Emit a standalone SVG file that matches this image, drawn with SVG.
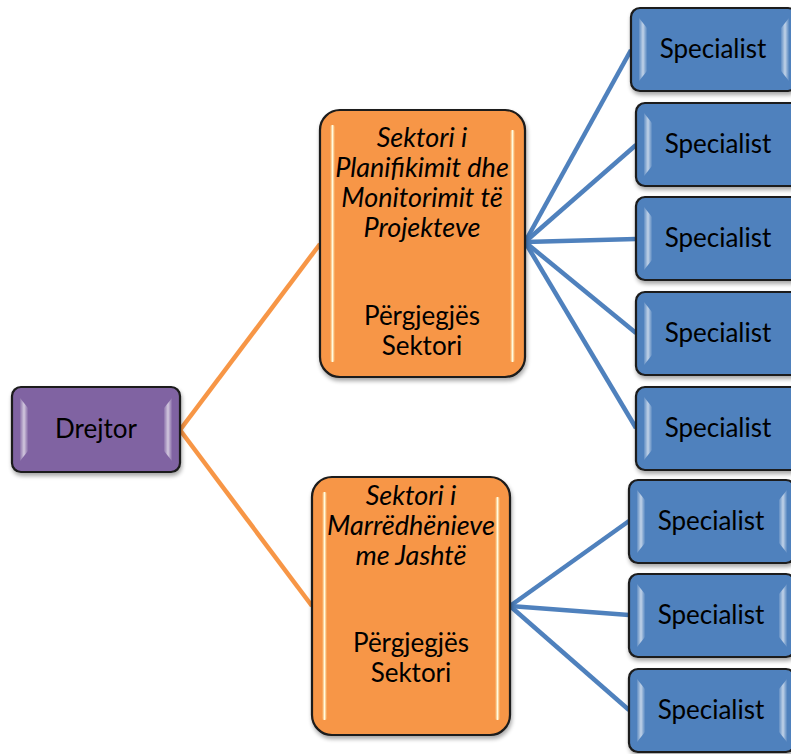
<svg xmlns="http://www.w3.org/2000/svg" width="791" height="754" viewBox="0 0 791 754">
<defs>
<filter id="sh" x="-10%" y="-10%" width="130%" height="130%">
<feGaussianBlur in="SourceAlpha" stdDeviation="2"/>
<feOffset dx="1" dy="3" result="b"/>
<feComponentTransfer><feFuncA type="linear" slope="0.35"/></feComponentTransfer>
<feMerge><feMergeNode/><feMergeNode in="SourceGraphic"/></feMerge>
</filter>
<linearGradient id="bevL" x1="0" y1="0" x2="1" y2="0">
<stop offset="0" stop-color="#fff" stop-opacity="0.1"/>
<stop offset="0.5" stop-color="#fff" stop-opacity="0.65"/>
<stop offset="1" stop-color="#fff" stop-opacity="0.05"/>
</linearGradient>
<linearGradient id="hl" x1="0" y1="0" x2="1" y2="0">
<stop offset="0" stop-color="#fff8c0" stop-opacity="0"/>
<stop offset="0.5" stop-color="#fffbe0" stop-opacity="1"/>
<stop offset="1" stop-color="#fff8c0" stop-opacity="0"/>
</linearGradient>
</defs>
<style>
.box{stroke:#1a1a1a;stroke-width:2.2}
.pur{fill:#8064A2}
.org{fill:#F79646}
.blu{fill:#4F81BD}
.t{font-family:Lato,"Liberation Sans",sans-serif;font-size:26px;fill:#000;text-anchor:middle}
.i{font-style:italic;font-size:27px}
.cOr{stroke:#F79646;stroke-width:4.5;fill:none}
.cBl{stroke:#4F81BD;stroke-width:4.5;fill:none}
.bev{fill:url(#bevL)}
.hl{fill:url(#hl)}
</style>
<g id="connectors">
<line class="cOr" x1="180" y1="430" x2="320" y2="244"/>
<line class="cOr" x1="180" y1="430" x2="312" y2="606"/>
<line class="cBl" x1="525" y1="242" x2="631" y2="50"/>
<line class="cBl" x1="525" y1="242" x2="636" y2="145"/>
<line class="cBl" x1="525" y1="242" x2="636" y2="239"/>
<line class="cBl" x1="525" y1="242" x2="636" y2="333"/>
<line class="cBl" x1="525" y1="242" x2="636" y2="428"/>
<line class="cBl" x1="510" y1="606" x2="629" y2="521"/>
<line class="cBl" x1="510" y1="606" x2="629" y2="615"/>
<line class="cBl" x1="510" y1="606" x2="629" y2="710"/>
</g>
<g id="drejtor">
<rect class="box pur" x="12" y="387" width="168" height="85" rx="9" filter="url(#sh)"/>
<path class="bev" d="M20 398 L28 408 L28 451 L20 461 Z"/>
<path class="bev" d="M172 398 L164 408 L164 451 L172 461 Z"/>
<text class="t" x="96" y="438">Drejtor</text>
</g>
<g id="sektor1">
<rect class="box org" x="320" y="110" width="205" height="267" rx="20" filter="url(#sh)"/>
<rect class="hl" x="330" y="125" width="5" height="237" rx="2"/>
<rect class="hl" x="510" y="130" width="5" height="232" rx="2"/>
<text class="t i" x="422" y="147">Sektori i</text>
<text class="t i" x="422" y="177">Planifikimit dhe</text>
<text class="t i" x="422" y="207">Monitorimit të</text>
<text class="t i" x="422" y="237">Projekteve</text>
<text class="t" x="422" y="325">Përgjegjës</text>
<text class="t" x="422" y="355">Sektori</text>
</g>
<g id="sektor2">
<rect class="box org" x="312" y="477" width="198" height="258" rx="20" filter="url(#sh)"/>
<rect class="hl" x="322" y="492" width="5" height="228" rx="2"/>
<rect class="hl" x="495" y="497" width="5" height="223" rx="2"/>
<text class="t i" x="411" y="505">Sektori i</text>
<text class="t i" x="411" y="535">Marrëdhënieve</text>
<text class="t i" x="411" y="565">me Jashtë</text>
<text class="t" x="411" y="652">Përgjegjës</text>
<text class="t" x="411" y="682">Sektori</text>
</g>
<g id="spec1">
<rect class="box blu" x="631" y="8" width="166" height="83" rx="9" filter="url(#sh)"/>
<path class="bev" d="M639 18 L647 28 L647 71 L639 81 Z"/>
<path class="bev" d="M789 18 L781 28 L781 71 L789 81 Z"/>
<text class="t" x="713" y="58">Specialist</text>
</g>
<g id="spec2">
<rect class="box blu" x="636" y="103" width="166" height="83" rx="9" filter="url(#sh)"/>
<path class="bev" d="M644 113 L652 123 L652 166 L644 176 Z"/>
<text class="t" x="718" y="153">Specialist</text>
</g>
<g id="spec3">
<rect class="box blu" x="636" y="197" width="166" height="83" rx="9" filter="url(#sh)"/>
<path class="bev" d="M644 207 L652 217 L652 260 L644 270 Z"/>
<text class="t" x="718" y="247">Specialist</text>
</g>
<g id="spec4">
<rect class="box blu" x="636" y="292" width="166" height="83" rx="9" filter="url(#sh)"/>
<path class="bev" d="M644 302 L652 312 L652 355 L644 365 Z"/>
<text class="t" x="718" y="342">Specialist</text>
</g>
<g id="spec5">
<rect class="box blu" x="636" y="387" width="166" height="83" rx="9" filter="url(#sh)"/>
<path class="bev" d="M644 397 L652 407 L652 450 L644 460 Z"/>
<text class="t" x="718" y="437">Specialist</text>
</g>
<g id="spec6">
<rect class="box blu" x="629" y="480" width="166" height="83" rx="9" filter="url(#sh)"/>
<path class="bev" d="M637 490 L645 500 L645 543 L637 553 Z"/>
<path class="bev" d="M787 490 L779 500 L779 543 L787 553 Z"/>
<text class="t" x="711" y="530">Specialist</text>
</g>
<g id="spec7">
<rect class="box blu" x="629" y="574" width="166" height="83" rx="9" filter="url(#sh)"/>
<path class="bev" d="M637 584 L645 594 L645 637 L637 647 Z"/>
<path class="bev" d="M787 584 L779 594 L779 637 L787 647 Z"/>
<text class="t" x="711" y="624">Specialist</text>
</g>
<g id="spec8">
<rect class="box blu" x="629" y="669" width="166" height="83" rx="9" filter="url(#sh)"/>
<path class="bev" d="M637 679 L645 689 L645 732 L637 742 Z"/>
<path class="bev" d="M787 679 L779 689 L779 732 L787 742 Z"/>
<text class="t" x="711" y="719">Specialist</text>
</g>
</svg>
